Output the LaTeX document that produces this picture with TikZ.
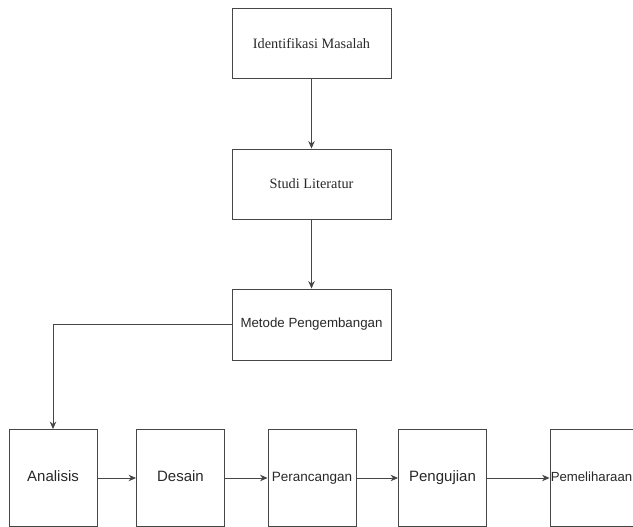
\documentclass[tikz,border=0pt]{standalone}
\usepackage{fontspec}
\setmainfont{Liberation Serif}
\setsansfont{Liberation Sans}
\usetikzlibrary{arrows.meta}
\definecolor{lnGray}{RGB}{70,70,70}
\definecolor{txGray}{RGB}{40,40,40}

\tikzset{
    tahap/.style={draw=lnGray, line width=0.9pt, minimum width=88pt, minimum height=97pt,
                  inner sep=0pt, text=txGray, font=\sffamily, text height=0.72em, text depth=0pt},
    atas/.style={draw=lnGray, line width=0.9pt, minimum width=159pt, minimum height=70pt,
                 inner sep=0pt, text=txGray},
    panah/.style={draw=lnGray, line width=0.8pt, -{Stealth[length=7.5pt,width=6.5pt]}}
}

\begin{document}
\begin{tikzpicture}[x=1pt, y=-1pt]
    \useasboundingbox (0,0) rectangle (633,527);

    \node[atas, font=\fontsize{14.3}{16}\selectfont] (ident) at (311.5,43.5) {Identifikasi Masalah};
    \node[atas, font=\fontsize{14.3}{16}\selectfont] (studi) at (311.5,184) {Studi Literatur};
    \node[atas, minimum height=71pt, font=\sffamily\fontsize{13.3}{15}\selectfont] (metode) at (311.5,324.5) {Metode Pengembangan};

    \node[tahap, font=\sffamily\fontsize{15}{17}\selectfont] (analisis) at (53,478) {Analisis};
    \node[tahap, font=\sffamily\fontsize{15}{17}\selectfont] (desain) at (180.5,478) {Desain};
    \node[tahap, font=\sffamily\fontsize{13.5}{15}\selectfont] (rancang) at (312,478) {Perancangan};
    \node[tahap, font=\sffamily\fontsize{15}{17}\selectfont] (uji) at (442.5,478) {Pengujian};
    \node[tahap] (pelihara) at (594,478) {};
    \node[anchor=west, inner sep=0pt, text=txGray, text height=0.72em, text depth=0pt,
          font=\sffamily\fontsize{13.2}{15}\selectfont] (pelihara-tx) at ([xshift=1pt]pelihara.west) {Pemeliharaan};

    \draw[panah] (ident) -- (studi);
    \draw[panah] (studi) -- (metode);
    \draw[panah] (metode.west) -| (analisis.north);
    \draw[panah] (analisis) -- (desain);
    \draw[panah] (desain) -- (rancang);
    \draw[panah] (rancang) -- (uji);
    \draw[panah] (uji) -- (pelihara);
\end{tikzpicture}
\end{document}
